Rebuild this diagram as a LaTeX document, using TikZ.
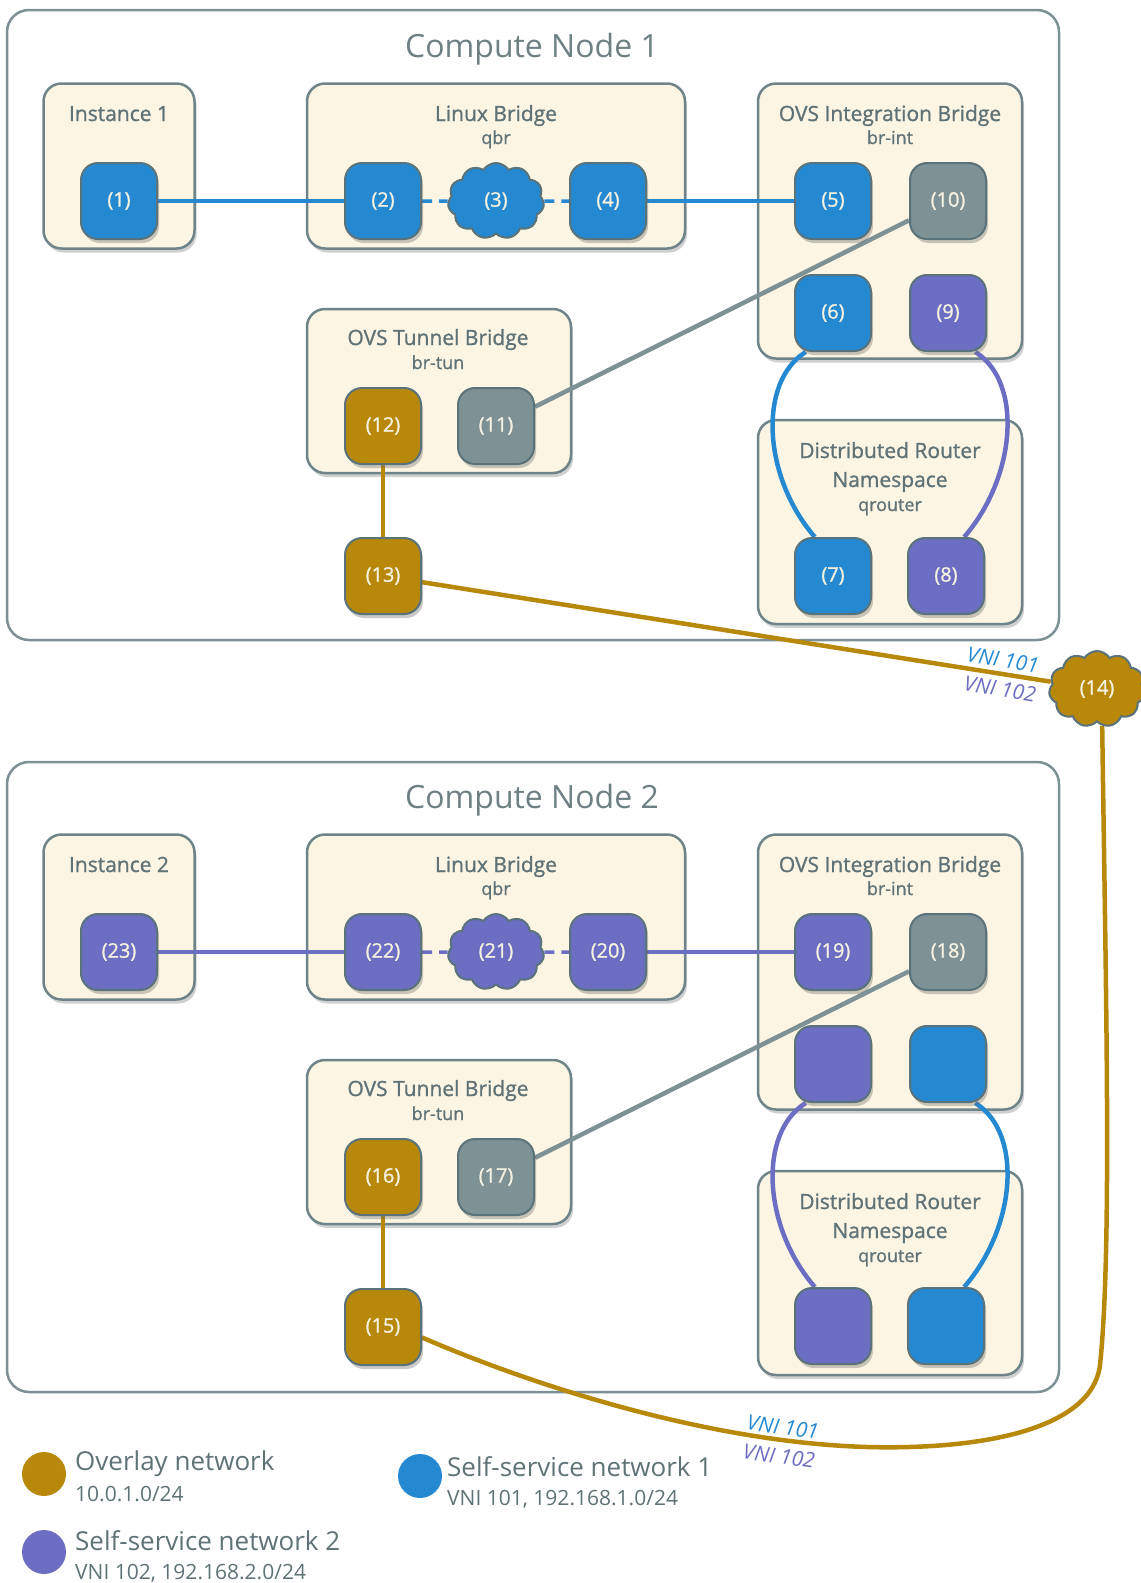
\documentclass[tikz,border=0pt]{standalone}
\usepackage{fontspec}
\setmainfont{Open Sans}
\newfontfamily\semifont{Open Sans}[FakeBold=1.1]
\usetikzlibrary{positioning, shapes.symbols, shadows}
\definecolor{NetBlue}{HTML}{2589D2}
\definecolor{NetPurple}{HTML}{6B6EC2}
\definecolor{NetGold}{HTML}{B8880A}
\definecolor{PortGray}{HTML}{7E9195}
\definecolor{PortEdge}{HTML}{5A7279}
\definecolor{BoxEdge}{HTML}{6F8488}
\definecolor{BoxFill}{HTML}{FCF5E3}
\definecolor{TextGray}{HTML}{5F7276}
\definecolor{PortText}{HTML}{F5F1E1}
\pgfdeclarelayer{boxes}
\pgfdeclarelayer{links}
\pgfsetlayers{boxes,links,main}
\tikzset{
  nodebox/.style={draw=BoxEdge!90, line width=2.5pt, rounded corners=22pt, fill=white},
  brbox/.style={draw=BoxEdge, line width=2.5pt, rounded corners=18pt, fill=BoxFill,
    drop shadow={shadow xshift=2pt, shadow yshift=-4pt, opacity=0.3, fill=black!60}},
  port/.style={draw=PortEdge, line width=2pt, rounded corners=17pt, minimum width=76pt,
    minimum height=76pt, inner sep=0pt, text=PortText, font=\semifont\fontsize{20}{22}\selectfont,
    drop shadow={shadow xshift=2pt, shadow yshift=-4pt, opacity=0.35, fill=black!60}},
  blueport/.style={port, fill=NetBlue},
  purpport/.style={port, fill=NetPurple},
  goldport/.style={port, fill=NetGold},
  grayport/.style={port, fill=PortGray},
  netcloud/.style={cloud, cloud puffs=11, cloud puff arc=115, aspect=1.25, draw=PortEdge,
    line width=2pt, minimum width=96pt, minimum height=76pt, inner sep=0pt,
    text=PortText, font=\semifont\fontsize{20}{22}\selectfont},
  ttl/.style={text=TextGray!90, font=\fontsize{32}{36}\selectfont},
  hdr/.style={text=TextGray, text height=15pt, text depth=5pt, inner sep=0pt,
    font=\semifont\fontsize{21}{24}\selectfont},
  sub/.style={text=TextGray, text height=12pt, text depth=4pt, inner sep=0pt,
    font=\semifont\fontsize{18}{20}\selectfont},
  blink/.style={draw=NetBlue, line width=4.5pt},
  plink/.style={draw=NetPurple, line width=4.5pt},
  olink/.style={draw=NetGold, line width=4.5pt},
  glink/.style={draw=PortGray, line width=4.5pt},
  dlink/.style={line width=3.5pt, dash pattern=on 10pt off 7pt},
  vni/.style={font=\fontsize{21}{24}\selectfont\itshape, inner sep=0pt},
  legdot/.style={circle, minimum size=44pt, inner sep=0pt},
  legttl/.style={anchor=west, inner sep=0pt, text=TextGray, font=\fontsize{26}{30}\selectfont},
  legsub/.style={anchor=west, inner sep=0pt, text=TextGray, font=\fontsize{21}{24}\selectfont},
}
\begin{document}
\begin{tikzpicture}[x=1pt, y=-1pt, node distance=34pt and 37pt]
  \useasboundingbox (0,0) rectangle (1141,1583);

  % boxes
  \begin{pgfonlayer}{boxes}
    \node[nodebox, minimum width=1052pt, minimum height=630pt] (cn1) at (533,325) {};
    \node[nodebox, minimum width=1052pt, minimum height=630pt] (cn2) at (533,1077) {};
    \node[brbox, minimum width=151pt, minimum height=165pt] (inst1) at (119,166) {};
    \node[brbox, minimum width=378pt, minimum height=165pt] (lb1) at (496,166) {};
    \node[brbox, minimum width=264pt, minimum height=275pt] (int1) at (890,221) {};
    \node[brbox, minimum width=264pt, minimum height=164pt] (tun1) at (439,391) {};
    \node[brbox, minimum width=264pt, minimum height=204pt] (rtr1) at (890,522) {};
    \node[brbox, minimum width=151pt, minimum height=165pt] (inst2) at (119,917) {};
    \node[brbox, minimum width=378pt, minimum height=165pt] (lb2) at (496,917) {};
    \node[brbox, minimum width=264pt, minimum height=275pt] (int2) at (890,972) {};
    \node[brbox, minimum width=264pt, minimum height=164pt] (tun2) at (439,1142) {};
    \node[brbox, minimum width=264pt, minimum height=204pt] (rtr2) at (890,1273) {};
  \end{pgfonlayer}

  % titles
  \node[ttl] (cn1t) at (532,49) {Compute Node 1};
  \node[ttl] (cn2t) at (532,800) {Compute Node 2};
  \node[hdr] (inst1t) at (119,116) {Instance 1};
  \node[hdr] (lb1t) at (496,116) {Linux Bridge};
  \node[sub] (lb1s) at (496,140) {qbr};
  \node[hdr] (int1t) at (890,116) {OVS Integration Bridge};
  \node[sub] (int1s) at (890,140) {br-int};
  \node[hdr] (tun1t) at (438,340) {OVS Tunnel Bridge};
  \node[sub] (tun1s) at (438,365) {br-tun};
  \node[hdr] (rtr1t) at (890,453) {Distributed Router};
  \node[hdr] (rtr1n) at (890,482) {Namespace};
  \node[sub] (rtr1s) at (890,507) {qrouter};
  \node[hdr] (inst2t) at (119,867) {Instance 2};
  \node[hdr] (lb2t) at (496,867) {Linux Bridge};
  \node[sub] (lb2s) at (496,891) {qbr};
  \node[hdr] (int2t) at (890,867) {OVS Integration Bridge};
  \node[sub] (int2s) at (890,891) {br-int};
  \node[hdr] (tun2t) at (438,1091) {OVS Tunnel Bridge};
  \node[sub] (tun2s) at (438,1116) {br-tun};
  \node[hdr] (rtr2t) at (890,1204) {Distributed Router};
  \node[hdr] (rtr2n) at (890,1233) {Namespace};
  \node[sub] (rtr2s) at (890,1258) {qrouter};

  % ports, compute node 1
  \node[blueport] (p1) at (119,201) {(1)};
  \node[blueport] (p2) at (383,201) {(2)};
  \node[netcloud, fill=NetBlue] (p3) at (496,201) {(3)};
  \node[blueport] (p4) at (608,201) {(4)};
  \node[blueport] (p5) at (833,201) {(5)};
  \node[grayport, right=of p5] (p10) {(10)};
  \node[blueport, below=of p5] (p6) {(6)};
  \node[purpport, below=of p10] (p9) {(9)};
  \node[goldport] (p12) at (383,426) {(12)};
  \node[grayport] (p11) at (496,426) {(11)};
  \node[goldport] (p13) at (383,576) {(13)};
  \node[blueport] (p7) at (833,576) {(7)};
  \node[purpport] (p8) at (946,576) {(8)};
  \node[netcloud, fill=NetGold] (p14) at (1097,689) {(14)};

  % ports, compute node 2
  \node[purpport] (p23) at (119,952) {(23)};
  \node[purpport] (p22) at (383,952) {(22)};
  \node[netcloud, fill=NetPurple] (p21) at (496,952) {(21)};
  \node[purpport] (p20) at (608,952) {(20)};
  \node[purpport] (p19) at (833,952) {(19)};
  \node[grayport, right=of p19] (p18) {(18)};
  \node[purpport, below=of p19] (q1) {};
  \node[blueport, below=of p18] (q2) {};
  \node[goldport] (p16) at (383,1177) {(16)};
  \node[grayport] (p17) at (496,1177) {(17)};
  \node[goldport] (p15) at (383,1327) {(15)};
  \node[purpport] (q3) at (833,1326) {};
  \node[blueport] (q4) at (946,1326) {};

  % links
  \begin{pgfonlayer}{links}
    \draw[blink] (p1) -- (p2);
    \draw[blink, dlink] (p2) -- (p3);
    \draw[blink, dlink] (p3) -- (p4);
    \draw[blink] (p4) -- (p5);
    \draw[glink] (p10) -- (p11);
    \draw[blink] (p6.235) .. controls +(-48,30) and +(-52,-60) .. (p7.115);
    \draw[plink] (p9.-55) .. controls +(48,30) and +(52,-60) .. (p8.65);
    \draw[olink] (p12) -- (p13);
    \draw[olink] (p13) -- (p14);
    \draw[plink] (p23) -- (p22);
    \draw[plink, dlink] (p22) -- (p21);
    \draw[plink, dlink] (p21) -- (p20);
    \draw[plink] (p20) -- (p19);
    \draw[glink] (p18) -- (p17);
    \draw[plink] (q1.235) .. controls +(-48,30) and +(-52,-60) .. (q3.115);
    \draw[blink] (q2.-55) .. controls +(48,30) and +(52,-60) .. (q4.65);
    \draw[olink] (p16) -- (p15);
    \draw[olink] (p14.-82) .. controls (1106,1000) and (1112,1250) .. (1100,1365)
      .. controls (1092,1430) and (980,1450) .. (867,1447)
      .. controls (700,1442) and (520,1380) .. (p15.-15);
  \end{pgfonlayer}

  % tunnel labels
  \node[vni, text=NetBlue, rotate=-9] (vni1a) at (1003,660) {VNI 101};
  \node[vni, text=NetPurple, rotate=-9] (vni1b) at (1000,689) {VNI 102};
  \node[vni, text=NetBlue, rotate=-8] (vni2a) at (783,1427) {VNI 101};
  \node[vni, text=NetPurple, rotate=-8] (vni2b) at (779,1456) {VNI 102};

  % legend
  \node[legdot, fill=NetGold] (lg1) at (44,1474) {};
  \node[legttl] (lg1t) at (75,1464) {Overlay network};
  \node[legsub] (lg1s) at (75,1494) {10.0.1.0/24};
  \node[legdot, fill=NetBlue] (lg2) at (420,1476) {};
  \node[legttl] (lg2t) at (447,1467) {Self-service network 1};
  \node[legsub] (lg2s) at (447,1499) {VNI 101, 192.168.1.0/24};
  \node[legdot, fill=NetPurple] (lg3) at (44,1552) {};
  \node[legttl] (lg3t) at (75,1541) {Self-service network 2};
  \node[legsub] (lg3s) at (75,1573) {VNI 102, 192.168.2.0/24};
\end{tikzpicture}
\end{document}
